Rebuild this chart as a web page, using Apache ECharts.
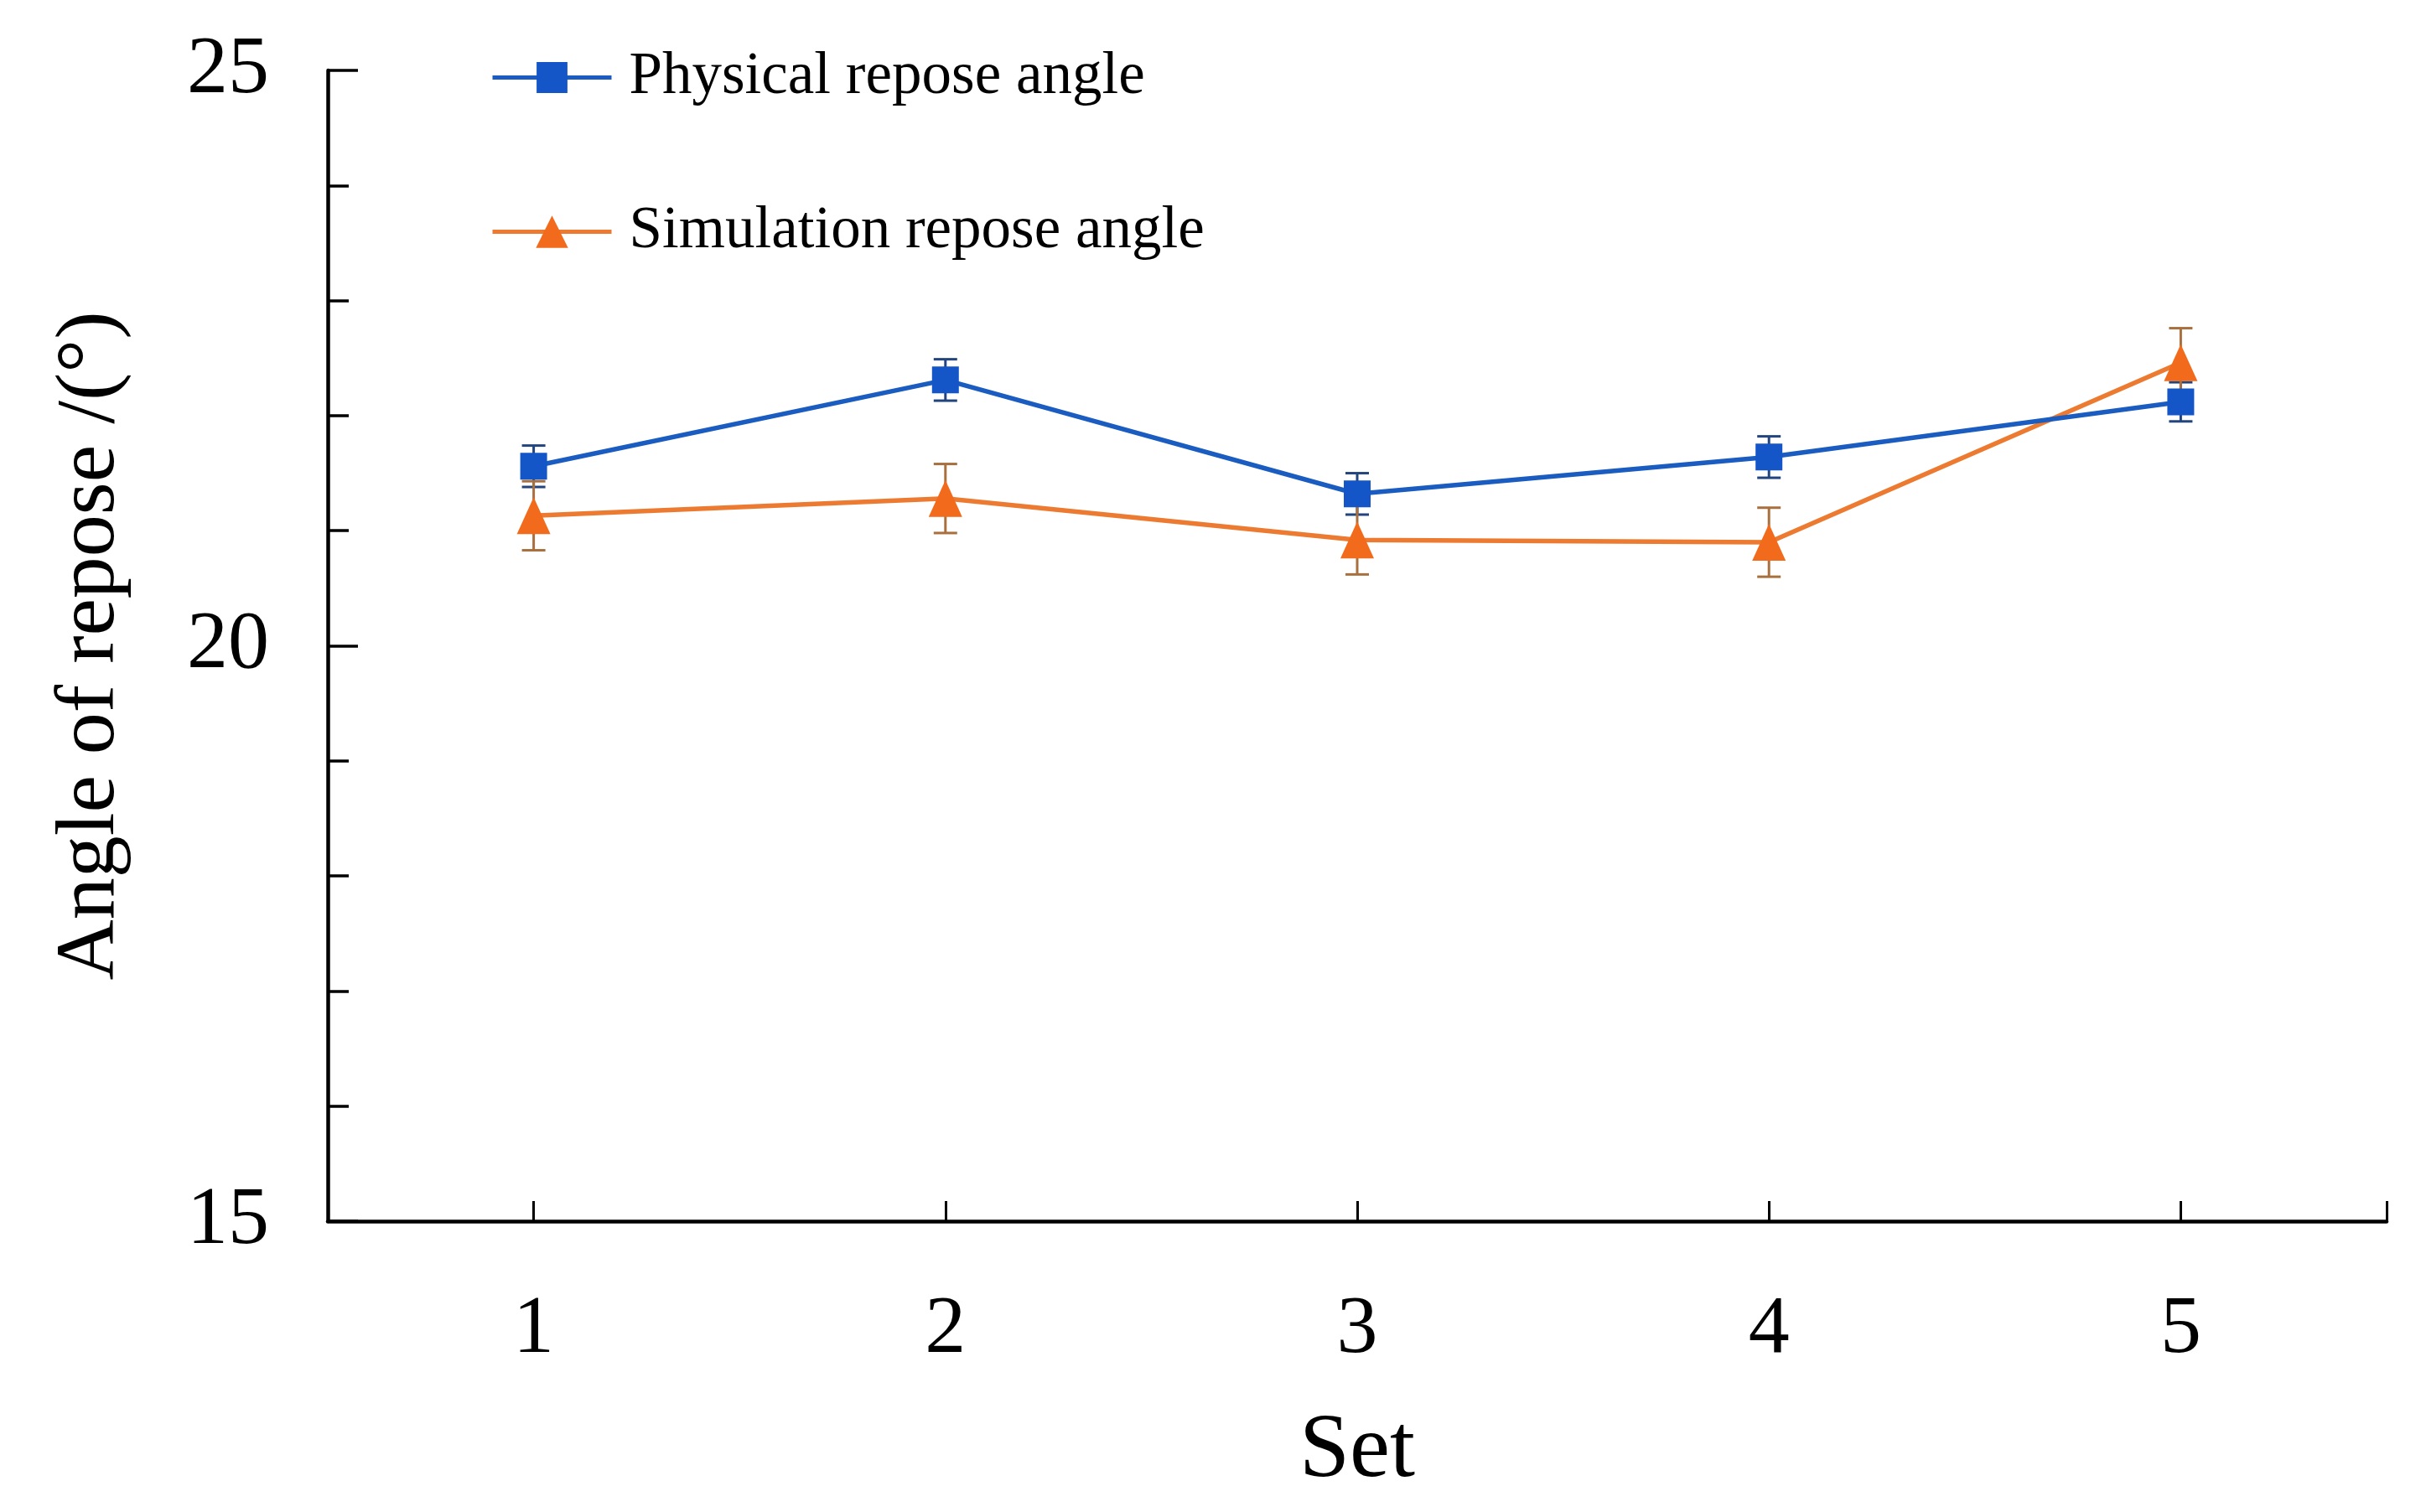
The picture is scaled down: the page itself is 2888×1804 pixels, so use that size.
<!DOCTYPE html>
<html>
<head>
<meta charset="utf-8">
<script src="https://cdn.jsdelivr.net/npm/echarts@6/dist/echarts.min.js"></script>
<style>
html,body{margin:0;padding:0;background:#fff;}
#chart{width:2888px;height:1804px;}
</style>
</head>
<body>
<div id="chart"></div>
<script>
// ---- data ----
const sets = [1, 2, 3, 4, 5];
const physicalAngle = [21.56, 22.31, 21.32, 21.64, 22.12];
const physicalErr   = [0.18, 0.18, 0.18, 0.18, 0.17];
const simulationAngle = [21.13, 21.28, 20.92, 20.90, 22.46];
const simulationErr   = [0.30, 0.30, 0.30, 0.30, 0.30];
const yTicks = [15, 20, 25];
const seriesNames = ['Physical repose angle', 'Simulation repose angle'];

const BLUE = '#1456c8';
const BLUE_LINE = '#1a5cc0';
const BLUE_ERR = '#23457e';
const ORANGE = '#f26a1b';
const ORANGE_LINE = '#ec7a30';
const ORANGE_ERR = '#a8703f';
const FONT = '"Liberation Serif", "Times New Roman", serif';

function errData(vals, errs) {
  return sets.map((s, i) => [s, vals[i] - errs[i], vals[i] + errs[i]]);
}
function errRender(color) {
  return function (params, api) {
    const x = api.value(0);
    const lo = api.coord([x, api.value(1)]);
    const hi = api.coord([x, api.value(2)]);
    const hw = 14;
    const style = { stroke: color, lineWidth: 3 };
    return {
      type: 'group',
      children: [
        { type: 'line', shape: { x1: lo[0], y1: lo[1], x2: hi[0], y2: hi[1] }, style: style },
        { type: 'line', shape: { x1: lo[0] - hw, y1: lo[1], x2: lo[0] + hw, y2: lo[1] }, style: style },
        { type: 'line', shape: { x1: hi[0] - hw, y1: hi[1], x2: hi[0] + hw, y2: hi[1] }, style: style }
      ]
    };
  };
}

const chart = echarts.init(document.getElementById('chart'));
const legendText = { fontFamily: FONT, fontSize: 71, color: '#000', padding: [0, 0, 0, 16] };
chart.setOption({
  backgroundColor: '#fff',
  animation: false,
  grid: { left: 391, right: 41, top: 84, bottom: 347, containLabel: false, outerBoundsMode: 'none' },
  legend: [
    { data: [seriesNames[0]], left: 580, top: 52, itemWidth: 142, itemHeight: 46,
      lineStyle: { width: 5 }, textStyle: legendText },
    { data: [seriesNames[1]], left: 580, top: 236, itemWidth: 142, itemHeight: 48,
      lineStyle: { width: 5 }, textStyle: legendText }
  ],
  xAxis: {
    type: 'value',
    min: 0.5,
    max: 5.5,
    name: 'Set',
    nameLocation: 'middle',
    nameGap: 222,
    nameTextStyle: { fontFamily: FONT, fontSize: 108, color: '#000' },
    axisLine: { lineStyle: { color: '#000', width: 4.5 } },
    axisTick: { inside: true, length: 24, lineStyle: { color: '#000', width: 3 }, customValues: [1, 2, 3, 4, 5, 5.5] },
    axisLabel: { fontFamily: FONT, fontSize: 98, color: '#000', margin: 81, customValues: sets },
    splitLine: { show: false }
  },
  yAxis: {
    type: 'value',
    min: 15,
    max: 25,
    interval: 5,
    name: 'Angle of repose /(°)',
    nameLocation: 'middle',
    nameGap: 232,
    nameTextStyle: { fontFamily: FONT, fontSize: 100, color: '#000' },
    axisLine: { show: true, lineStyle: { color: '#000', width: 4.5 } },
    axisTick: { show: true, inside: true, length: 36, lineStyle: { color: '#000', width: 3.5 } },
    minorTick: { show: true, splitNumber: 5, length: 25, lineStyle: { color: '#000', width: 3.5 } },
    axisLabel: { fontFamily: FONT, fontSize: 98, color: '#000', margin: 70,
      formatter: function (v) { return yTicks.indexOf(v) >= 0 ? String(v) : ''; } },
    splitLine: { show: false }
  },
  series: [
    {
      type: 'custom', name: 'physErr', z: 1, silent: true,
      renderItem: errRender(BLUE_ERR),
      encode: { x: 0, y: [1, 2] },
      data: errData(physicalAngle, physicalErr)
    },
    {
      type: 'custom', name: 'simErr', z: 1, silent: true,
      renderItem: errRender(ORANGE_ERR),
      encode: { x: 0, y: [1, 2] },
      data: errData(simulationAngle, simulationErr)
    },
    {
      type: 'line', name: seriesNames[0], z: 3,
      data: sets.map((s, i) => [s, physicalAngle[i]]),
      symbol: 'rect', symbolSize: 32,
      lineStyle: { color: BLUE_LINE, width: 5.5 },
      itemStyle: { color: BLUE }
    },
    {
      type: 'line', name: seriesNames[1], z: 2,
      data: sets.map((s, i) => [s, simulationAngle[i]]),
      symbol: 'triangle', symbolSize: [40, 44],
      lineStyle: { color: ORANGE_LINE, width: 5.5 },
      itemStyle: { color: ORANGE }
    }
  ]
});
</script>
</body>
</html>
